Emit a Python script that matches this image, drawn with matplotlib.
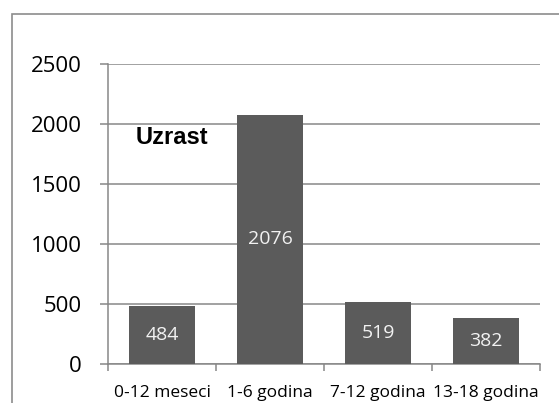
import matplotlib
matplotlib.use("Agg")
import matplotlib.pyplot as plt
from matplotlib.patches import Rectangle

categories = ["0-12 meseci", "1-6 godina", "7-12 godina", "13-18 godina"]
values = [484, 2076, 519, 382]
yticks = [0, 500, 1000, 1500, 2000, 2500]
annot = "Uzrast"

plt.rcParams['font.family'] = ['Open Sans', 'DejaVu Sans']

W, H = 559, 403
fig = plt.figure(figsize=(W / 100, H / 100), dpi=100)
ax = fig.add_axes([108 / W, 1 - 364 / H, (540 - 108) / W, (364 - 64) / H])

grey = "#878787"
bar_color = "#5b5b5b"

x = list(range(len(categories)))
bars = ax.bar(x, values, width=0.61, color=bar_color, zorder=3)
for xi, v in zip(x, values):
    ax.text(xi, v / 2, str(v), ha="center", va="center", color="#f2f2f2",
            fontsize=14, zorder=4)

ax.set_xlim(-0.5, len(categories) - 0.5)
ax.set_ylim(0, 2500)
ax.set_yticks(yticks)
ax.set_yticklabels([str(t) for t in yticks], fontsize=16)
ax.yaxis.grid(True, color=grey, linewidth=1.1, zorder=0)
ax.set_axisbelow(True)

ax.set_xticks(x)
ax.set_xticklabels(categories, fontsize=12.5)
ax.set_xticks([i - 0.5 for i in range(len(categories) + 1)], minor=True)
ax.tick_params(axis="x", which="major", length=0, pad=15)
ax.tick_params(axis="x", which="minor", length=5, width=1.1, color=grey)
ax.tick_params(axis="y", which="major", length=6, width=1.1, color=grey, pad=13)

for s in ["top", "right"]:
    ax.spines[s].set_visible(False)
for s in ["left", "bottom"]:
    ax.spines[s].set_color(grey)
    ax.spines[s].set_linewidth(1.1)

ax.text((172 - 108) / 432, (364 - 138) / 300, annot, transform=ax.transAxes,
        ha="center", va="center", fontsize=17, fontweight="bold", color="black",
        family=['Liberation Sans', 'DejaVu Sans'])

frame = Rectangle((12 / W, -0.2), 1.5, 1.2 - 14 / H, transform=fig.transFigure,
                  fill=False, edgecolor="#8c8c8c", linewidth=1.2)
fig.patches.append(frame)

fig.savefig("out.png", dpi=100)
